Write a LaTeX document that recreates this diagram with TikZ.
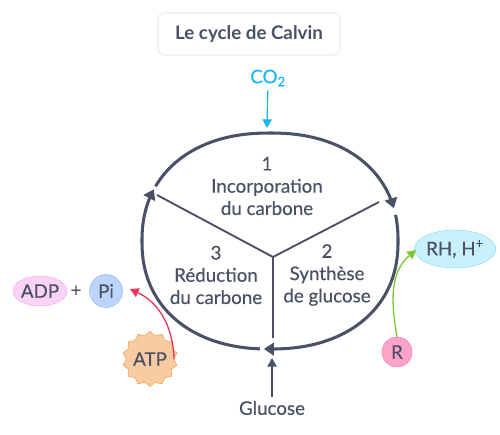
\documentclass[tikz,border=0pt]{standalone}
\usepackage{fontspec}
\setmainfont{Lato}[UprightFeatures={FakeBold=0.35}]
\usetikzlibrary{positioning, arrows.meta, shapes.geometric}
\definecolor{ink}{HTML}{4B5066}
\definecolor{cocol}{HTML}{19B5F2}
\definecolor{redcol}{HTML}{E8345B}
\definecolor{greencol}{HTML}{7EC62F}
\definecolor{adpfill}{HTML}{FAD3F7}
\definecolor{adpline}{HTML}{F2A6EC}
\definecolor{pifill}{HTML}{BDD5FB}
\definecolor{piline}{HTML}{92B6F3}
\definecolor{atpfill}{HTML}{F8CBA2}
\definecolor{atpline}{HTML}{F29B43}
\definecolor{rfill}{HTML}{FFA3C9}
\definecolor{rline}{HTML}{F27AAE}
\definecolor{rhfill}{HTML}{C9F1FD}
\definecolor{rhline}{HTML}{8CDBF5}
\tikzset{declare function={
    sx(\t)=270+128*sign(cos(\t))*pow(abs(cos(\t))+0.0001,0.9);
    sy(\t)=241-108*sign(sin(\t))*pow(abs(sin(\t))+0.0001,0.9);}}

\begin{document}
\begin{tikzpicture}[x=0.3mm, y=-0.3mm, font=\fontsize{16}{19}\selectfont, text=ink,
    cyc/.style={draw=ink, line width=2.6pt, -{Triangle[length=3mm,width=3.8mm]}},
    spoke/.style={draw=ink, line width=1.6pt},
    feed/.style={line width=1.1pt, -{Triangle[length=2.6mm,width=2.8mm]}},
    lbl/.style={align=center, inner sep=0pt}]
    \useasboundingbox (0,0) rectangle (500,434);
    \node (title) [draw=black!7, line width=1.2pt, rounded corners=2mm,
        minimum width=54.6mm, minimum height=12.6mm, font=\fontsize{16}{19}\selectfont\bfseries] at (249,34) {Le cycle de Calvin};
    % cycle
    \draw[cyc] plot[domain=152:15.4, samples=60] ({sx(\x)},{sy(\x)});
    \draw[cyc] plot[domain=11.9:-91.9, samples=60] ({sx(\x)},{sy(\x)});
    \draw[cyc] plot[domain=266.6:153.8, samples=60] ({sx(\x)},{sy(\x)});
    % spokes
    \coordinate (hub) at (273,257);
    \coordinate (s1) at (157,195);
    \coordinate (s2) at (379,202);
    \coordinate (s3) at (273,338);
    \foreach \i in {1,2,3}
        \draw[spoke] (hub) -- (s\i);
    % steps
    \node (step1) [lbl] at (267,186) {1\\Incorporation\\du carbone};
    \node (step3) [lbl] at (216,275) {3\\Réduction\\du carbone};
    \node (step2) [lbl] at (327,275) {2\\Synthèse\\de glucose};
    % in
    \node (co2) [text=cocol] at (268,78) {CO\textsubscript{2}};
    \coordinate (top) at (267,128);
    \draw[feed, cocol] (co2) -- (top);
    \node (glu) at (272,408) {Glucose};
    \coordinate (bot) at (272,358);
    \draw[feed, ink] (glu) -- (bot);
    % left
    \node (adp) [ellipse, draw=adpline, fill=adpfill, minimum width=14.4mm, minimum height=9mm, inner sep=0pt] at (40,291) {ADP};
    \node (plus) at (76,291) {+};
    \node (pi) [circle, draw=piline, fill=pifill, minimum size=9.9mm, inner sep=0pt] at (106,291) {Pi};
    \node (atp) [star, star points=14, star point ratio=1.16, draw=atpline, fill=atpfill, minimum size=16mm, inner sep=0pt] at (150,359) {ATP};
    \coordinate (pitip) at (130,289);
    \draw[feed, redcol] (atp.east) to[out=92, in=-25] (pitip);
    % right
    \node (r) [circle, draw=rline, fill=rfill, minimum size=9mm, inner sep=0pt] at (397,352) {R};
    \node (rh) [ellipse, draw=rhline, fill=rhfill, minimum width=19.8mm, minimum height=11.4mm, inner sep=0pt] at (455,249) {RH, H\textsuperscript{+}};
    \coordinate (rhtip) at (416,250);
    \draw[feed, greencol] (r.north) to[out=100, in=-140] (rhtip);
\end{tikzpicture}
\end{document}
